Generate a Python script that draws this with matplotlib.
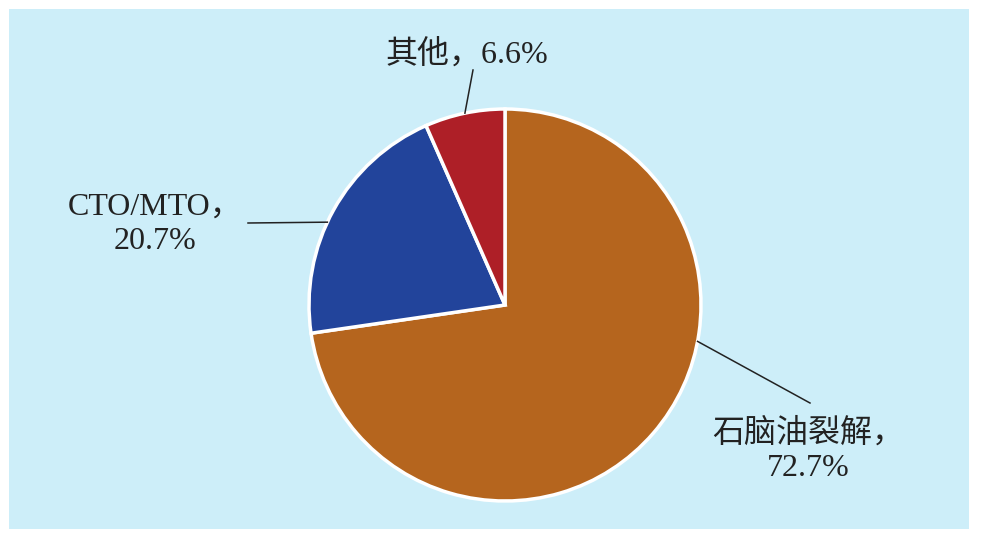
import matplotlib.pyplot as plt
from matplotlib.patches import Rectangle
import numpy as np

labels = ['石脑油裂解，\n72.7%', 'CTO/MTO，\n20.7%', '其他，6.6%']
shares = [72.7, 20.7, 6.6]
colors = ['#B5651E', '#22449B', '#AE1F27']

W, H = 987, 535
fig = plt.figure(figsize=(W / 100, H / 100), dpi=100)
fig.patch.set_facecolor('white')
ax = fig.add_axes([0, 0, 1, 1])
ax.set_xlim(0, W)
ax.set_ylim(0, H)
ax.set_aspect('equal')
ax.axis('off')

# light blue panel
ax.add_patch(Rectangle((9, H - 529), 960, 520, facecolor='#CDEEF9',
                       edgecolor='none', zorder=0))

cx, cy, r = 505, H - 305, 196
wedges, _ = ax.pie(shares, colors=colors, startangle=90, counterclock=False,
                   center=(cx, cy), radius=r, frame=True,
                   wedgeprops=dict(edgecolor='white', linewidth=2.5))
ax.set_xlim(0, W)
ax.set_ylim(0, H)
ax.axis('off')

# label text position and angle where the leader touches the pie
label_pos = [(808, H - 451), (155, H - 224), (467, H - 54)]
touch_deg = [-10.7, 155.0, 101.8]
line_end = [(810, H - 403), (248, H - 223), (473, H - 70)]

font = ['Liberation Serif', 'Noto Sans CJK SC']
for lab, (tx, ty), a, (lx, ly) in zip(labels, label_pos, touch_deg, line_end):
    t = np.deg2rad(a)
    px, py = cx + r * np.cos(t), cy + r * np.sin(t)
    ax.plot([px, lx], [py, ly], color='#222222', lw=1.1, zorder=3)
    ax.text(tx, ty, lab, ha='center', va='center', multialignment='center',
            fontsize=23, family=font, fontweight='light', color='#222222',
            linespacing=1.25)

fig.savefig('out.png', dpi=100, facecolor='white')
